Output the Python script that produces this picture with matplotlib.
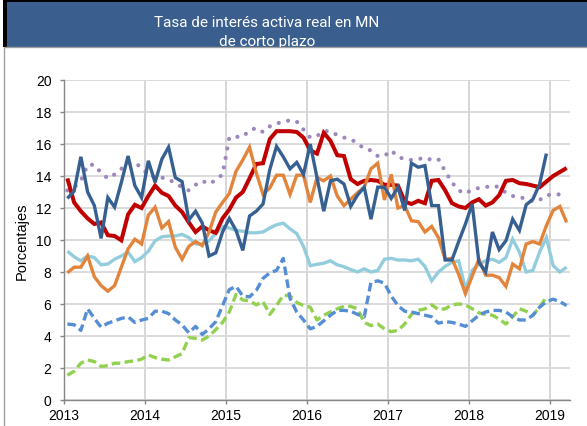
import pandas as pd
import matplotlib
matplotlib.use("Agg")
import matplotlib.pyplot as plt
from matplotlib.patches import Rectangle

# Monthly observations, January 2013 onward (plotted at mid-month)
months = pd.date_range("2013-01-01", "2019-03-01", freq="MS")
t_all = (months.year + (months.month - 0.5) / 12.0).to_numpy()

year_ticks = [2013, 2014, 2015, 2016, 2017, 2018, 2019]
y_ticks = [0, 2, 4, 6, 8, 10, 12, 14, 16, 18, 20]

red = [13.85, 12.35, 11.8, 11.35, 11.0, 11.1, 10.3, 10.25, 9.98, 11.6, 12.2, 12.0,
       12.75, 13.4, 12.95, 12.75, 12.15, 11.75, 11.1, 10.5, 10.85, 10.6, 10.45, 11.35,
       11.9, 12.65, 13.0, 13.85, 14.75, 14.8, 16.3, 16.8, 16.8, 16.8, 16.75, 16.4,
       15.6, 15.4, 16.7, 16.2, 15.3, 15.25, 13.8, 13.5, 13.7, 13.75, 13.7, 13.45,
       13.45, 13.4, 12.4, 12.25, 12.45, 12.3, 13.7, 13.75, 13.1, 12.3, 12.1, 12.0,
       12.35, 12.55, 12.15, 12.35, 12.8, 13.7, 13.75, 13.55, 13.5, 13.4, 13.3, 13.65,
       14.0, 14.25, 14.5]

dark_blue = [12.6, 13.05, 15.2, 13.0, 12.15, 10.1, 12.65, 12.05, 13.6, 15.25, 13.4, 12.65,
             14.95, 13.6, 15.05, 15.8, 13.9, 13.65, 11.25, 11.8, 11.05, 9.0, 9.2, 10.5,
             11.35, 10.6, 9.35, 11.5, 11.8, 12.25, 14.4, 15.85, 15.2, 14.45, 14.85, 14.1,
             16.0, 13.9, 11.8, 13.7, 13.8, 13.5, 12.1, 12.8, 13.3, 11.3, 13.3, 13.3,
             12.6, 13.3, 11.85, 14.8, 14.55, 14.65, 12.15, 12.15, 8.75, 8.75, 9.9, 11.0,
             12.25, 8.6, 8.0, 10.5, 9.4, 9.95, 11.3, 10.6, 12.2, 12.55, 13.5, 15.4]

orange = [7.95, 8.3, 8.3, 9.0, 7.7, 7.15, 6.8, 7.15, 8.3, 9.45, 10.05, 9.75,
          11.55, 12.05, 10.75, 11.15, 9.55, 8.8, 9.6, 9.9, 9.65, 10.5, 11.75, 12.35,
          12.9, 14.3, 15.0, 15.8, 14.2, 12.85, 13.25, 14.05, 14.05, 12.85, 14.05, 14.05,
          12.35, 13.9, 13.7, 14.0, 12.75, 12.15, 12.55, 12.95, 13.3, 14.45, 14.8, 12.5,
          14.1, 12.0, 12.15, 11.2, 11.15, 10.5, 10.85, 10.15, 8.8, 8.85, 7.85, 6.65,
          7.75, 8.8, 7.8, 7.8, 7.65, 7.1, 8.5, 8.2, 9.75, 9.9, 9.75, 10.9,
          11.85, 12.1, 11.1]

light_blue = [9.3, 8.95, 8.7, 9.0, 8.9, 8.45, 8.5, 8.8, 9.0, 9.25, 8.65, 8.9,
              9.3, 9.95, 10.2, 10.25, 10.25, 10.35, 10.15, 9.75, 9.75, 9.95, 10.4, 10.85,
              10.75, 10.6, 10.55, 10.45, 10.45, 10.5, 10.75, 10.95, 11.05, 10.7, 10.4, 9.6,
              8.4, 8.48, 8.55, 8.7, 8.45, 8.33, 8.15, 8.0, 8.2, 8.0, 8.1, 8.8,
              8.85, 8.75, 8.75, 8.7, 8.8, 8.35, 7.45, 8.0, 8.35, 8.6, 8.7, 6.95,
              8.1, 8.5, 8.7, 8.8, 8.6, 8.9, 10.05, 9.25, 8.0, 8.1, 9.25, 10.15,
              8.4, 8.0, 8.3]

purple = [13.1, 13.3, 13.7, 14.7, 14.7, 14.2, 13.85, 14.1, 14.45, 14.8, 14.8, 14.55,
          14.05, 13.95, 13.9, 13.8, 13.55, 13.3, 13.1, 13.45, 13.7, 13.5, 13.75, 14.1,
          16.4, 16.45, 16.45, 16.85, 17.0, 16.75, 17.1, 17.3, 17.35, 17.5, 17.4, 16.9,
          16.4, 16.5, 16.8, 16.8, 16.55, 16.4, 16.3, 16.05, 15.7, 15.6, 15.25, 15.25,
          15.6, 15.2, 15.05, 15.0, 15.05, 15.15, 15.0, 15.05, 14.3, 13.6, 13.1, 12.9,
          13.15, 13.25, 13.3, 13.4, 13.3, 12.95, 12.75, 12.7, 12.55, 12.4, 12.5, 12.8,
          12.85, 12.85]

blue_dashed = [4.75, 4.7, 4.35, 5.7, 5.1, 4.55, 4.8, 4.95, 5.1, 5.2, 4.85, 5.0,
               5.1, 5.55, 5.55, 5.4, 5.0, 4.7, 4.2, 4.6, 4.1, 4.45, 4.9, 5.9,
               6.9, 7.1, 6.5, 6.45, 6.85, 7.6, 7.95, 8.1, 8.85, 6.35, 5.5, 5.0,
               4.45, 4.6, 4.95, 5.3, 5.6, 5.6, 5.55, 5.35, 5.2, 7.35, 7.45, 7.3,
               6.5, 5.9, 5.55, 5.5, 5.4, 5.3, 5.2, 4.8, 4.9, 4.85, 4.75, 4.6,
               4.95, 5.3, 5.5, 5.6, 5.6, 5.5, 5.2, 5.0, 5.0, 5.3, 5.8, 6.15,
               6.3, 6.15, 5.9]

green = [1.55, 1.8, 2.3, 2.5, 2.4, 2.1, 2.15, 2.3, 2.3, 2.4, 2.45, 2.55,
         2.82, 2.65, 2.55, 2.5, 2.7, 2.9, 3.9, 3.85, 3.75, 4.0, 4.4, 4.85,
         5.5, 6.6, 6.25, 6.2, 5.95, 6.15, 5.35, 5.9, 6.55, 6.5, 6.1, 5.9,
         5.8, 5.0, 5.3, 5.5, 5.7, 5.85, 5.85, 5.7, 4.85, 4.65, 4.75, 4.45,
         4.27, 4.35, 4.75, 5.35, 5.6, 5.7, 5.95, 5.65, 5.7, 5.95, 6.0, 5.95,
         5.7, 5.45, 5.35, 5.3, 5.05, 4.75, 5.2, 5.7, 5.55, 5.3, 5.8, 6.45]

W, H = 587, 427
fig = plt.figure(figsize=(W / 100, H / 100), dpi=100)


def fx(px):
    return px / W


def fy(py):
    return 1 - py / H


# Header band with black frame
fig.patches.append(Rectangle((fx(3), fy(48)), fx(590) - fx(3), fy(0) - fy(48),
                             transform=fig.transFigure, facecolor="#000000",
                             edgecolor="none", zorder=1))
fig.patches.append(Rectangle((fx(7.3), fy(48)), fx(590) - fx(7.3), fy(3) - fy(48),
                             transform=fig.transFigure, facecolor="#3A5F8F",
                             edgecolor="none", zorder=2))
fig.text(fx(267), fy(23), "Tasa de interés activa real en MN", color="white",
         fontsize=11, family="Roboto", ha="center", va="center", zorder=3)
fig.text(fx(267), fy(42), "de corto plazo", color="white",
         fontsize=11, family="Roboto", ha="center", va="center", zorder=3)

# White chart panel (overlaps the bottom of the header)
fig.patches.append(Rectangle((fx(3.8), fy(440)), fx(600) - fx(3.8), fy(48) - fy(440),
                             transform=fig.transFigure, facecolor="white",
                             edgecolor="#A0A0A0", linewidth=1.0, zorder=5))

ax = fig.add_axes([fx(64), fy(401), fx(570) - fx(64), fy(81) - fy(401)])
ax.set_zorder(10)
ax.patch.set_alpha(0)

series = [
    (purple, dict(color="#9D87BC", lw=3.0, linestyle=(0, (0.01, 2.3)),
                  dash_capstyle="round")),
    (green, dict(color="#92D050", lw=2.4, linestyle=(0, (2.6, 1.3)),
                 dash_capstyle="butt")),
    (blue_dashed, dict(color="#558ED5", lw=2.4, linestyle=(0, (2.6, 1.3)),
                       dash_capstyle="butt")),
    (light_blue, dict(color="#93CDDD", lw=2.4)),
    (red, dict(color="#C00000", lw=2.9)),
    (orange, dict(color="#E3843C", lw=2.4)),
    (dark_blue, dict(color="#376092", lw=2.4)),
]
for values, style in series:
    ax.plot(t_all[:len(values)], values, solid_joinstyle="miter",
            solid_capstyle="butt", **style)

ax.set_xlim(2013, 2019.25)
ax.set_ylim(0, 20)
ax.set_xticks(year_ticks)
ax.set_xticklabels([str(y) for y in year_ticks])
ax.set_yticks(y_ticks)
ax.set_yticklabels([str(v) for v in y_ticks])

ax.grid(axis="y", color="#D9D9D9", linewidth=1.3)
ax.grid(axis="x", color="#CBCBCB", linewidth=1.1)
ax.set_axisbelow(True)

for side in ("top", "right"):
    ax.spines[side].set_visible(False)
for side in ("left", "bottom"):
    ax.spines[side].set_color("#868686")
    ax.spines[side].set_linewidth(1.0)

ax.tick_params(axis="both", direction="out", length=3, width=1.0, color="#868686",
               labelsize=10, labelcolor="#000000")
ax.tick_params(axis="y", pad=6)
ax.tick_params(axis="x", pad=3)
for lab in ax.get_xticklabels() + ax.get_yticklabels():
    lab.set_family("Liberation Sans")

fig.text(fx(22), fy(241), "Porcentajes", rotation=90, ha="center", va="center",
         fontsize=10.5, family="Liberation Sans", color="#000000", zorder=11)

fig.savefig("out.png", dpi=100)
